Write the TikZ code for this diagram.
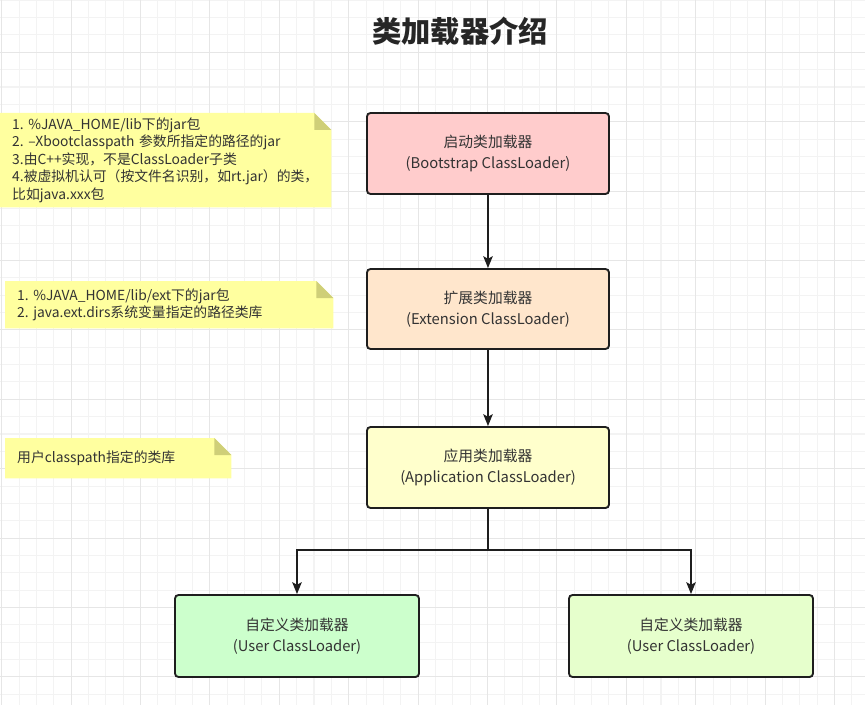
\documentclass[tikz,border=0pt]{standalone}
\usepackage{fontspec}
\setmainfont{Noto Sans CJK SC}
\usepackage{tikz}
\usetikzlibrary{arrows.meta,positioning,calc,backgrounds}
\frenchspacing

\definecolor{bootfill}{HTML}{FFCCCC}
\definecolor{extfill}{HTML}{FFE6CC}
\definecolor{appfill}{HTML}{FFFFCC}
\definecolor{userfill}{HTML}{CCFFCC}
\definecolor{userfillb}{HTML}{E6FFCC}
\definecolor{memofill}{HTML}{FFFF9F}
\definecolor{memofold}{HTML}{CFCF78}
\definecolor{txt}{HTML}{333333}
\definecolor{edge}{HTML}{1E1E1E}
\definecolor{gridmin}{HTML}{F3F3F3}
\definecolor{gridmaj}{HTML}{E6E6E6}

\begin{document}
\begin{tikzpicture}[
    x=0.03cm, y=-0.03cm,
    ldr/.style={draw=edge, line width=1.6pt, rounded corners=3pt, minimum width=7.26cm, minimum height=2.43cm, align=center, text=txt, font=\fontsize{12.6}{17.5}\selectfont},
    memo/.style={anchor=north west, inner xsep=0.36cm, align=left, text=txt, font=\fontsize{11.8}{15}\selectfont},
    arr/.style={-{Stealth[length=10pt, width=8pt, inset=2pt]}, line width=1.6pt, draw=edge},
    ttl/.style={text=black!85, font=\fontsize{25}{30}\selectfont\bfseries}
]
\useasboundingbox (0,0) rectangle (865,705);

\node[ttl] (title) at (460,31) {类加载器介绍};

\node[ldr, fill=bootfill] (boot) at (488,153.5) {启动类加载器\\(Bootstrap ClassLoader)};
\node[ldr, fill=extfill, minimum height=2.4cm] (ext) at (488,309) {扩展类加载器\\(Extension ClassLoader)};
\node[ldr, fill=appfill] (app) at (488,467.5) {应用类加载器\\(Application ClassLoader)};
\node[ldr, fill=userfill, minimum width=7.32cm, minimum height=2.46cm] (userA) at (297,636) {自定义类加载器\\(User ClassLoader)};
\node[ldr, fill=userfillb, minimum width=7.32cm, minimum height=2.46cm] (userB) at (691,636) {自定义类加载器\\(User ClassLoader)};

\node[memo, minimum width=9.93cm, minimum height=2.82cm, text width=9.21cm] (memoA) at (0,113)
  {1. \%JAVA\_HOME/lib下的jar包\\2. –Xbootclasspath 参数所指定的路径的jar\\3.由C++实现，不是ClassLoader子类\\4.被虚拟机认可（按文件名识别，如rt.jar）的类，\\比如java.xxx包};
\node[memo, minimum width=9.84cm, minimum height=1.41cm, text width=9.12cm] (memoB) at (5,281)
  {1. \%JAVA\_HOME/lib/ext下的jar包\\2. java.ext.dirs系统变量指定的路径类库};
\node[memo, minimum width=6.78cm, minimum height=1.2cm, text width=6.06cm] (memoC) at (5,438)
  {用户classpath指定的类库};

\coordinate (split) at (488,550);
\draw[arr] (boot) -- (ext);
\draw[arr] (ext) -- (app);
\draw[arr] (app.south) -- (split) -| (userA.north);
\draw[arr] (split) -| (userB.north);

\begin{scope}[on background layer]
  \foreach \i in {0,...,49}
    \draw[gridmin, line width=0.9pt] ({1.7+17.35*\i},0) -- ({1.7+17.35*\i},705);
  \foreach \j in {0,...,40}
    \draw[gridmin, line width=0.9pt] (0,{0.25+17.35*\j}) -- (865,{0.25+17.35*\j});
  \foreach \i in {0,4,...,48}
    \draw[gridmaj, line width=1pt] ({1.7+17.35*\i},0) -- ({1.7+17.35*\i},705);
  \foreach \j in {3,7,...,39}
    \draw[gridmaj, line width=1pt] (0,{0.25+17.35*\j}) -- (865,{0.25+17.35*\j});
  \foreach \n in {memoA,memoB,memoC} {
    \fill[memofill] (\n.south west) -- (\n.north west) -- ([xshift=-0.51cm]\n.north east)
      -- ([yshift=-0.51cm]\n.north east) -- (\n.south east) -- cycle;
    \fill[memofold] ([xshift=-0.51cm]\n.north east) -- ([xshift=-0.51cm,yshift=-0.51cm]\n.north east)
      -- ([yshift=-0.51cm]\n.north east) -- cycle;
  }
\end{scope}
\end{tikzpicture}
\end{document}
